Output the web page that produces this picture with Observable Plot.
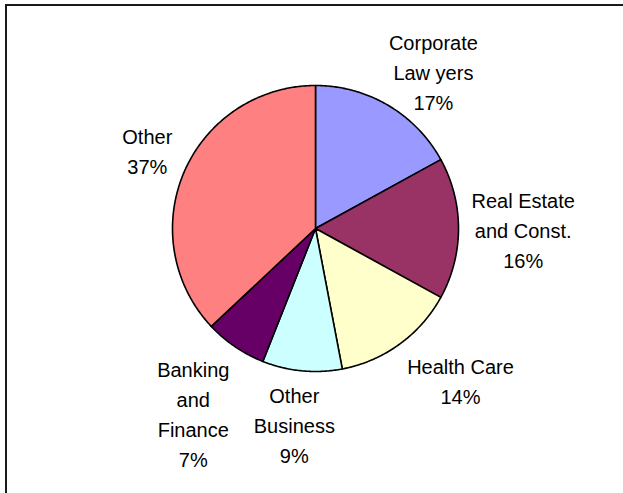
<!DOCTYPE html>
<html>
<head>
<meta charset="utf-8">
<script src="https://cdn.jsdelivr.net/npm/d3@7"></script>
<script src="https://cdn.jsdelivr.net/npm/@observablehq/plot@0.6"></script>
<style>
  html, body { margin: 0; padding: 0; background: #fff; overflow: hidden; }
  #wrap { position: relative; width: 623px; height: 493px; overflow: hidden; }
  #frame { position: absolute; left: 5px; top: 4px; width: 700px; height: 600px;
           border-top: 2px solid #1a1a1a; border-left: 2px solid #1a1a1a; pointer-events: none; }
  #chart { position: absolute; left: 0; top: 0; }
</style>
</head>
<body>
<div id="wrap"><div id="chart"></div><div id="frame"></div></div>
<script>
// ---- data ----
const categories = ["Corporate Lawyers", "Real Estate and Const.", "Health Care", "Other Business", "Banking and Finance", "Other"];
const labelText = ["Corporate\nLaw yers", "Real Estate\nand Const.", "Health Care", "Other\nBusiness", "Banking\nand\nFinance", "Other"];
const values = [17, 16, 14, 9, 7, 37];
const colors = ["#9999FF", "#993366", "#FFFFCC", "#CCFFFF", "#660066", "#FF8080"];

// ---- layout ----
const W = 623, H = 493;
const cx = 315, cy = 228, R = 143;
const fontSize = 20, linePx = 30, gap = 13, topLimit = 30, k = 1.7;
const fontFamily = "'Liberation Sans', Arial, Helvetica, sans-serif";

const ctx = document.createElement("canvas").getContext("2d");
ctx.font = `${fontSize}px ${fontFamily}`;

const arcs = d3.pie().sort(null).value(d => d)(values);

const slicePts = [];
arcs.forEach((a, i) => {
  const n = Math.max(2, Math.ceil((a.endAngle - a.startAngle) / 0.01));
  slicePts.push({cat: categories[i], x: 0, y: 0});
  for (let j = 0; j <= n; j++) {
    const t = a.startAngle + (a.endAngle - a.startAngle) * j / n;
    slicePts.push({cat: categories[i], x: Math.sin(t), y: Math.cos(t)});
  }
});

const clamp1 = v => Math.max(-1, Math.min(1, v));
const labels = arcs.map((a, i) => {
  const lines = labelText[i].split("\n").concat([`${values[i]}%`]);
  const w = d3.max(lines, l => ctx.measureText(l).width);
  const h = lines.length * linePx - 10;
  const m = (a.startAngle + a.endAngle) / 2;
  const s = Math.sin(m), c = Math.cos(m);
  const ax = cx + (R + gap) * s, ay = cy - (R + gap) * c;
  let px = ax + clamp1(k * s) * w / 2;
  let py = ay - clamp1(k * c) * h / 2;
  if (py - h / 2 < topLimit) py = topLimit + h / 2;
  return {x: (px - cx) / R, y: (cy - py) / R, text: lines.join("\n")};
});

const chart = Plot.plot({
  width: W, height: H,
  margin: 0,
  style: {background: "transparent", fontFamily},
  x: {domain: [(0 - cx) / R, (W - cx) / R], axis: null},
  y: {domain: [-(H - cy) / R, cy / R], axis: null},
  color: {domain: categories, range: colors},
  marks: [
    Plot.line(slicePts, {x: "x", y: "y", z: "cat", fill: "cat", stroke: "#000",
      strokeWidth: 1.6, strokeLinejoin: "round", curve: "linear-closed"}),
    Plot.text(labels, {x: "x", y: "y", text: "text", fontSize, lineHeight: linePx / fontSize,
      textAnchor: "middle", lineAnchor: "middle", fill: "#000", fontFamily})
  ]
});
document.getElementById("chart").appendChild(chart);
</script>
</body>
</html>
